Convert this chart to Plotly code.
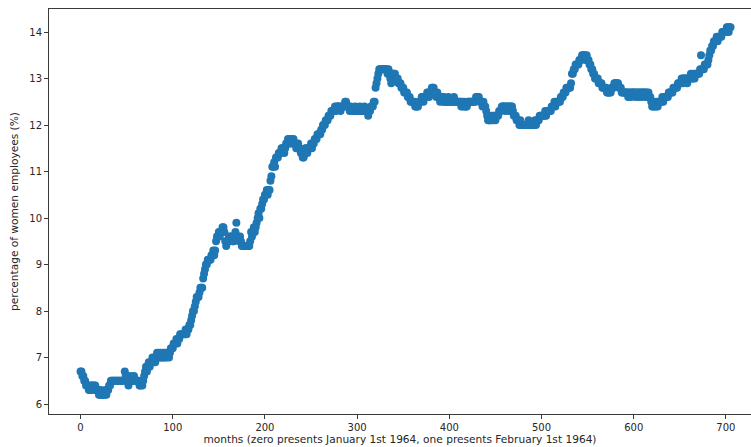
import plotly.graph_objects as go

# Monthly share of women among employees (%), month 0 = January 1964
pct_1964_1973 = [
    6.7, 6.7, 6.6, 6.6, 6.5, 6.5, 6.4, 6.4, 6.4, 6.3,
    6.4, 6.3, 6.4, 6.4, 6.3, 6.4, 6.4, 6.3, 6.3, 6.3,
    6.2, 6.2, 6.3, 6.2, 6.2, 6.2, 6.2, 6.3, 6.2, 6.3,
    6.3, 6.4, 6.4, 6.5, 6.5, 6.5, 6.5, 6.5, 6.5, 6.5,
    6.5, 6.5, 6.5, 6.5, 6.5, 6.5, 6.5, 6.5, 6.7, 6.6,
    6.6, 6.5, 6.4, 6.5, 6.6, 6.5, 6.5, 6.5, 6.6, 6.5,
    6.5, 6.5, 6.5, 6.5, 6.4, 6.4, 6.5, 6.4, 6.5, 6.6,
    6.7, 6.8, 6.7, 6.8, 6.9, 6.8, 6.9, 6.9, 7.0, 6.9,
    7.0, 6.9, 7.0, 7.1, 7.0, 7.1, 7.0, 7.1, 7.0, 7.0,
    7.1, 7.0, 7.1, 7.0, 7.1, 7.1, 7.0, 7.1, 7.2, 7.2,
    7.2, 7.3, 7.3, 7.3, 7.4, 7.3, 7.4, 7.4, 7.5, 7.5,
    7.5, 7.5, 7.5, 7.5, 7.6, 7.5, 7.6, 7.6, 7.7, 7.7,
]
pct_1974_1983 = [
    7.8, 7.9, 8.0, 8.0, 8.1, 8.2, 8.3, 8.3, 8.3, 8.4,
    8.5, 8.5, 8.5, 8.7, 8.8, 8.9, 9.0, 9.0, 9.1, 9.1,
    9.1, 9.1, 9.2, 9.2, 9.3, 9.2, 9.3, 9.5, 9.6, 9.6,
    9.7, 9.6, 9.7, 9.7, 9.8, 9.8, 9.7, 9.5, 9.4, 9.5,
    9.5, 9.6, 9.5, 9.6, 9.6, 9.5, 9.5, 9.6, 9.7, 9.9,
    9.6, 9.6, 9.5, 9.6, 9.5, 9.4, 9.4, 9.4, 9.4, 9.4,
    9.4, 9.4, 9.4, 9.4, 9.5, 9.7, 9.6, 9.7, 9.8, 9.7,
    9.8, 9.9, 10.0, 10.1, 10.0, 10.2, 10.2, 10.3, 10.4, 10.4,
    10.5, 10.5, 10.6, 10.5, 10.6, 10.6, 10.8, 10.9, 11.1, 11.1,
    11.2, 11.1, 11.3, 11.3, 11.3, 11.4, 11.4, 11.4, 11.5, 11.5,
    11.5, 11.4, 11.5, 11.6, 11.6, 11.7, 11.6, 11.7, 11.6, 11.7,
    11.6, 11.7, 11.6, 11.6, 11.5, 11.5, 11.6, 11.5, 11.5, 11.4,
]
pct_1984_1993 = [
    11.4, 11.3, 11.3, 11.4, 11.5, 11.5, 11.4, 11.5, 11.5, 11.5,
    11.6, 11.5, 11.6, 11.6, 11.7, 11.7, 11.7, 11.8, 11.8, 11.8,
    11.8, 11.9, 11.9, 12.0, 12.0, 12.0, 12.1, 12.1, 12.1, 12.2,
    12.2, 12.2, 12.3, 12.3, 12.3, 12.3, 12.4, 12.3, 12.4, 12.4,
    12.4, 12.4, 12.3, 12.4, 12.4, 12.4, 12.4, 12.5, 12.5, 12.4,
    12.4, 12.4, 12.3, 12.4, 12.3, 12.3, 12.3, 12.3, 12.4, 12.3,
    12.3, 12.3, 12.3, 12.4, 12.3, 12.3, 12.3, 12.3, 12.4, 12.3,
    12.3, 12.3, 12.2, 12.3, 12.3, 12.4, 12.4, 12.4, 12.5, 12.5,
    12.8, 12.9, 13.0, 13.1, 13.2, 13.2, 13.2, 13.2, 13.2, 13.2,
    13.2, 13.2, 13.2, 13.1, 13.2, 13.1, 13.0, 12.9, 13.1, 13.1,
    13.1, 13.1, 13.0, 13.0, 13.0, 12.9, 12.9, 12.9, 12.8, 12.8,
    12.8, 12.7, 12.7, 12.7, 12.7, 12.6, 12.6, 12.6, 12.5, 12.5,
]
pct_1994_2003 = [
    12.5, 12.5, 12.5, 12.4, 12.4, 12.4, 12.4, 12.5, 12.5, 12.5,
    12.6, 12.6, 12.5, 12.6, 12.6, 12.6, 12.7, 12.7, 12.6, 12.7,
    12.7, 12.8, 12.8, 12.8, 12.7, 12.7, 12.6, 12.7, 12.6, 12.6,
    12.5, 12.6, 12.6, 12.5, 12.6, 12.5, 12.5, 12.5, 12.5, 12.6,
    12.5, 12.5, 12.5, 12.5, 12.5, 12.6, 12.5, 12.5, 12.5, 12.5,
    12.5, 12.5, 12.5, 12.4, 12.5, 12.4, 12.5, 12.4, 12.4, 12.4,
    12.5, 12.5, 12.5, 12.5, 12.5, 12.5, 12.5, 12.5, 12.5, 12.6,
    12.6, 12.6, 12.6, 12.5, 12.5, 12.5, 12.4, 12.5, 12.4, 12.4,
    12.3, 12.2, 12.1, 12.1, 12.1, 12.1, 12.2, 12.1, 12.2, 12.2,
    12.1, 12.2, 12.2, 12.2, 12.3, 12.3, 12.3, 12.4, 12.4, 12.4,
    12.4, 12.3, 12.4, 12.4, 12.4, 12.3, 12.4, 12.4, 12.4, 12.3,
    12.2, 12.2, 12.2, 12.1, 12.1, 12.1, 12.0, 12.1, 12.0, 12.0,
]
pct_2004_2013 = [
    12.0, 12.0, 12.0, 12.0, 12.0, 12.0, 12.1, 12.0, 12.0, 12.0,
    12.0, 12.0, 12.0, 12.1, 12.0, 12.1, 12.1, 12.1, 12.2, 12.2,
    12.2, 12.2, 12.2, 12.2, 12.3, 12.2, 12.3, 12.3, 12.3, 12.3,
    12.3, 12.4, 12.4, 12.4, 12.5, 12.4, 12.5, 12.5, 12.5, 12.5,
    12.5, 12.6, 12.6, 12.6, 12.7, 12.7, 12.7, 12.8, 12.8, 12.8,
    12.8, 12.8, 12.9, 13.1, 13.1, 13.2, 13.2, 13.3, 13.3, 13.3,
    13.3, 13.4, 13.4, 13.4, 13.5, 13.5, 13.5, 13.5, 13.4, 13.5,
    13.4, 13.4, 13.3, 13.3, 13.2, 13.2, 13.1, 13.1, 13.0, 13.0,
    13.0, 13.0, 12.9, 12.9, 12.9, 12.9, 12.8, 12.8, 12.8, 12.8,
    12.8, 12.7, 12.7, 12.7, 12.7, 12.7, 12.8, 12.8, 12.8, 12.9,
    12.9, 12.9, 12.9, 12.9, 12.8, 12.8, 12.8, 12.7, 12.7, 12.7,
    12.7, 12.7, 12.7, 12.7, 12.6, 12.7, 12.7, 12.6, 12.7, 12.7,
]
pct_2014_2022 = [
    12.7, 12.7, 12.6, 12.7, 12.7, 12.6, 12.7, 12.7, 12.6, 12.7,
    12.7, 12.7, 12.6, 12.7, 12.7, 12.6, 12.7, 12.6, 12.6, 12.5,
    12.4, 12.4, 12.5, 12.4, 12.4, 12.5, 12.4, 12.5, 12.5, 12.5,
    12.5, 12.6, 12.5, 12.6, 12.6, 12.6, 12.6, 12.6, 12.7, 12.7,
    12.7, 12.7, 12.7, 12.8, 12.8, 12.8, 12.8, 12.8, 12.9, 12.9,
    12.9, 12.9, 13.0, 12.9, 13.0, 13.0, 13.0, 13.0, 12.9, 13.0,
    13.0, 13.0, 13.1, 13.0, 13.0, 13.1, 13.0, 13.1, 13.1, 13.1,
    13.1, 13.1, 13.2, 13.5, 13.2, 13.2, 13.2, 13.3, 13.3, 13.3,
    13.3, 13.4, 13.5, 13.6, 13.6, 13.7, 13.7, 13.8, 13.8, 13.8,
    13.9, 13.8, 13.9, 13.9, 13.9, 13.9, 14.0, 14.0, 14.0, 14.0,
    14.0, 14.1, 14.1, 14.0, 14.1, 14.1,
]

pct = (pct_1964_1973 + pct_1974_1983 + pct_1984_1993
       + pct_1994_2003 + pct_2004_2013 + pct_2014_2022)
months = list(range(len(pct)))

x_ticks = [0, 100, 200, 300, 400, 500, 600, 700]
y_ticks = [6, 7, 8, 9, 10, 11, 12, 13, 14]

FONT = "DejaVu Sans, sans-serif"
AXIS_COLOR = "#3a3a3a"
TEXT_COLOR = "#262626"

fig = go.Figure(
    go.Scatter(
        x=months,
        y=pct,
        mode="markers",
        marker=dict(color="#1f77b4", size=8, line=dict(width=0)),
        showlegend=False,
        hoverinfo="x+y",
    )
)

axis_common = dict(
    showgrid=False,
    zeroline=False,
    showline=True,
    linecolor=AXIS_COLOR,
    linewidth=1,
    ticks="outside",
    ticklen=4,
    tickwidth=1,
    tickcolor=AXIS_COLOR,
    tickfont=dict(family=FONT, size=10, color=TEXT_COLOR),
    automargin=False,
)

fig.update_layout(
    width=751,
    height=447,
    margin=dict(l=49, r=0, t=9, b=33),
    paper_bgcolor="white",
    plot_bgcolor="white",
    font=dict(family=FONT, size=10, color=TEXT_COLOR),
    xaxis=dict(
        axis_common,
        range=[-34.2, 727.2],
        tickmode="array",
        tickvals=x_ticks,
        mirror=True,
        title=dict(
            text="months (zero presents January 1st 1964, one presents February 1st 1964)",
            font=dict(family=FONT, size=10.6, color=TEXT_COLOR),
            standoff=3,
        ),
    ),
    yaxis=dict(
        axis_common,
        range=[5.785, 14.495],
        tickmode="array",
        tickvals=y_ticks,
        title=dict(
            text="percentage of women employees (%)",
            font=dict(family=FONT, size=10.6, color=TEXT_COLOR),
            standoff=8,
        ),
    ),
)

fig.write_html("out.html")
